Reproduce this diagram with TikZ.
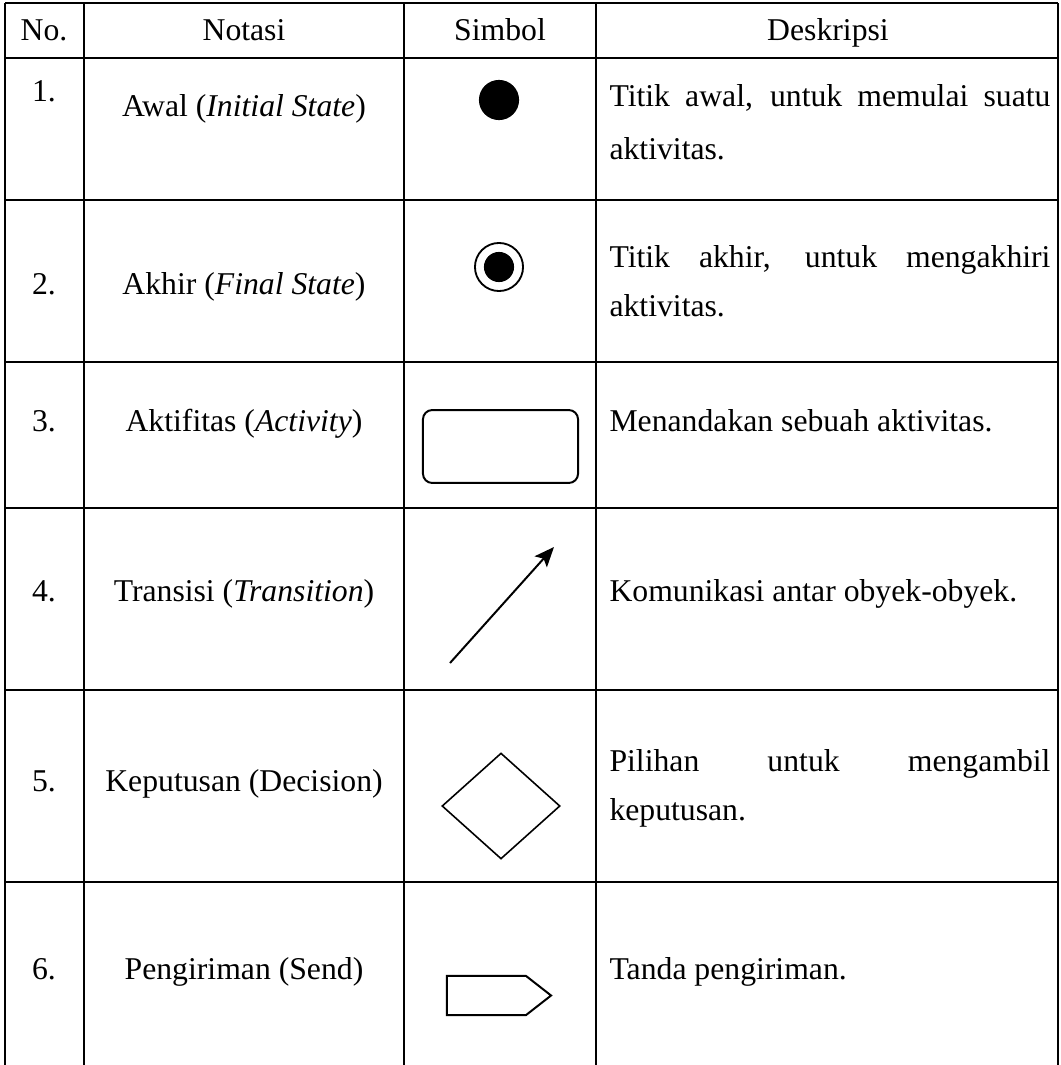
\documentclass[tikz,border=0pt]{standalone}
\usepackage{fontspec}
\setmainfont{Liberation Serif}
\usetikzlibrary{shapes.geometric, shapes.symbols, arrows.meta}
\tikzstyle{arrow} = [line width=0.75pt, -{Stealth[length=7.5pt, width=6.2pt, inset=1.6pt]}]
\tikzstyle{hgrid} = [line width=1pt]
\tikzstyle{vgrid} = [line width=0.85pt]
\tikzstyle{cell} = [anchor=base, inner sep=0pt]
\tikzstyle{desc} = [anchor=base west, inner sep=0pt]
\tikzstyle{startdot} = [circle, fill=black, inner sep=0pt, minimum size=15.2pt]
\tikzstyle{enddot} = [circle, draw=black, line width=0.7pt, inner sep=0pt, minimum size=18.2pt]
\tikzstyle{enddotin} = [circle, fill=black, inner sep=0pt, minimum size=11.4pt]
\tikzstyle{activity} = [rectangle, rounded corners=3.5pt, draw=black, line width=0.75pt, minimum width=58.7pt, minimum height=27.6pt]
\tikzstyle{decision} = [diamond, draw=black, line width=0.6pt, inner sep=0pt, minimum width=44.7pt, minimum height=40.1pt]
\tikzstyle{send} = [signal, signal to=east, signal pointer angle=76, draw=black, line width=0.75pt, inner sep=0pt, minimum width=39.4pt, minimum height=14.8pt]
\newcommand{\jline}[1]{\makebox[166.9pt][s]{#1}}
\begin{document}
\begin{tikzpicture}[x=0.3785pt, y=-0.3785pt, font=\fontsize{12pt}{14pt}\selectfont]
    \useasboundingbox (0,0) rectangle (1061,1065);

    % table lines
    \foreach \y in {3,58,200,362,508,690,882}
        \draw [hgrid] (5,\y) -- (1058,\y);
    \foreach \x in {5,84,404,596,1058}
        \draw [vgrid] (\x,3) -- (\x,1065);

    % header
    \node (HNO) [cell] at (44,41) {No.};
    \node (HNOT) [cell] at (244,41) {Notasi};
    \node (HSIM) [cell] at (500,41) {Simbol};
    \node (HDES) [cell] at (828,41) {Deskripsi};

    % 1. initial state
    \node (NO1) [cell] at (44,101) {1.};
    \node (NOT1) [cell] at (244,116) {Awal (\textit{Initial State})};
    \node (INIT) [startdot] at (499,100) {};
    \node (DES1A) [desc] at (609,106) {\jline{Titik awal, untuk memulai suatu}};
    \node (DES1B) [desc] at (609,159) {aktivitas.};

    % 2. final state
    \node (NO2) [cell] at (44,294) {2.};
    \node (NOT2) [cell] at (244,294) {Akhir (\textit{Final State})};
    \node (FINAL) [enddot] at (499,267) {};
    \node (FINALIN) [enddotin] at (FINAL) {};
    \node (DES2A) [desc] at (609,267) {\jline{Titik akhir, untuk mengakhiri}};
    \node (DES2B) [desc] at (609,316) {aktivitas.};

    % 3. activity
    \node (NO3) [cell] at (44,431) {3.};
    \node (NOT3) [cell] at (244,431) {Aktifitas (\textit{Activity})};
    \node (ACT) [activity] at (500.5,446.5) {};
    \node (DES3) [desc] at (609,431) {Menandakan sebuah aktivitas.};

    % 4. transition
    \node (NO4) [cell] at (44,601) {4.};
    \node (NOT4) [cell] at (244,601) {Transisi (\textit{Transition})};
    \coordinate (TRS) at (450,663);
    \coordinate (TRE) at (554,547);
    \draw [arrow] (TRS) -- (TRE);
    \node (DES4) [desc] at (609,601) {Komunikasi antar obyek-obyek.};

    % 5. decision
    \node (NO5) [cell] at (44,791) {5.};
    \node (NOT5) [cell] at (244,791) {Keputusan (Decision)};
    \node (DEC) [decision] at (501,806) {};
    \node (DES5A) [desc] at (609,771) {\jline{Pilihan untuk mengambil}};
    \node (DES5B) [desc] at (609,820) {keputusan.};

    % 6. send
    \node (NO6) [cell] at (44,979) {6.};
    \node (NOT6) [cell] at (244,979) {Pengiriman (Send)};
    \node (SEND) [send] at (486.5,995.5) {};
    \node (DES6) [desc] at (609,979) {Tanda pengiriman.};

\end{tikzpicture}
\end{document}
